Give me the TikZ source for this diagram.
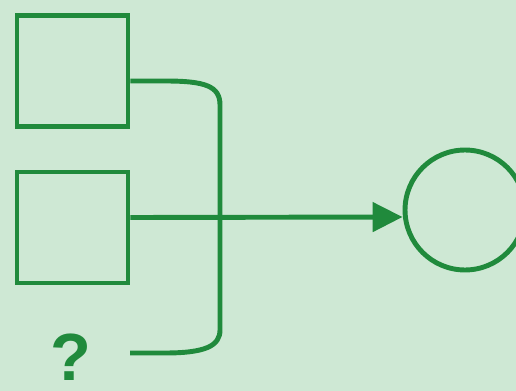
\documentclass[tikz,border=0pt]{standalone}
\usepackage{fontspec}
\setsansfont{Liberation Sans}
\usetikzlibrary{arrows.meta,positioning}
\definecolor{paper}{RGB}{206,232,212}
\definecolor{ink}{RGB}{32,138,60}
\tikzset{
  box/.style={draw=ink,line width=2.8pt,minimum size=2.22cm,inner sep=0pt},
  ring/.style={circle,draw=ink,line width=2.8pt,minimum size=2.4cm,inner sep=0pt},
  wire/.style={draw=ink,line width=2.8pt},
  qmark/.style={text=ink,font=\sffamily\bfseries\fontsize{38}{38}\selectfont,inner sep=0pt}
}

\begin{document}
\begin{tikzpicture}[x=0.02cm,y=-0.02cm]
\fill[paper] (0,0) rectangle (516,391);
\useasboundingbox (0,0) rectangle (516,391);
\node[box] (top) at (72.5,71) {};
\node[box] (bot) at (72.5,227.5) {};
\node[ring] (out) at (465,210) {};
\node[qmark] (q) at (71,357) {?};
\coordinate (qend) at (130,353);
\draw[wire] ([yshift=-0.2cm]top.east) -- (165,81) .. controls (205,81) and (220,86) .. (220,105)
  -- (220,330) .. controls (220,346) and (205,353) .. (165,353) -- (qend);
\draw[wire,-{Triangle[length=0.6cm,width=0.58cm]}] ([yshift=0.2cm]bot.east) -- (out.west |- 0,217);
\end{tikzpicture}
\end{document}
